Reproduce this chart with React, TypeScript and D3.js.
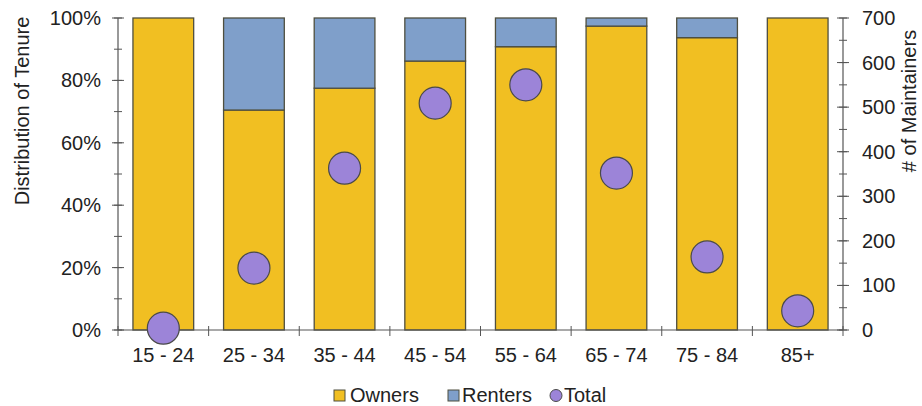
import React from "react";
import * as d3 from "d3";

const categories = ["15 - 24", "25 - 34", "35 - 44", "45 - 54", "55 - 64", "65 - 74", "75 - 84", "85+"];
const owners = [1.0, 0.705, 0.775, 0.862, 0.908, 0.974, 0.937, 1.0];
const renters = owners.map((o) => 1 - o);
const totals = [4, 139, 363, 509, 550, 352, 164, 43];
const leftTicks = [0, 0.2, 0.4, 0.6, 0.8, 1.0];
const rightTicks = [0, 100, 200, 300, 400, 500, 600, 700];

const W = 922;
const H = 406;
const font = "Liberation Sans, Arial, sans-serif";
const fs = 20;
const colors = { owners: "#f1bf22", renters: "#7f9fca", total: "#9c84d8" };
const stroke = "#4f4f3f";

const App = () => {
  const x = d3.scaleBand().domain(categories).range([118, 843]).paddingInner(0.33).paddingOuter(0.165);
  const yL = d3.scaleLinear().domain([0, 1]).range([330, 18]);
  const yR = d3.scaleLinear().domain([0, 700]).range([330, 18]);
  const fmt = d3.format(".0%");

  const minorL = d3.range(0, 11).map((i) => i / 10);
  const minorR = d3.range(0, 15).map((i) => i * 50);
  const bounds = d3.range(0, categories.length + 1).map((i) => x.range()[0] + i * x.step());

  return (
    <svg width={W} height={H} style={{ position: "absolute", left: 0, top: 0, background: "#fff" }} fontFamily={font}>
      {/* bars */}
      {categories.map((c, i) => (
        <g key={c}>
          <rect x={x(c)} y={yL(owners[i])} width={x.bandwidth()} height={yL(0) - yL(owners[i])}
            fill={colors.owners} stroke={stroke} strokeWidth={1.3} />
          {renters[i] > 0.001 && (
            <rect x={x(c)} y={yL(1)} width={x.bandwidth()} height={yL(owners[i]) - yL(1)}
              fill={colors.renters} stroke={stroke} strokeWidth={1.3} />
          )}
        </g>
      ))}

      {/* left axis */}
      <line x1={118} x2={118} y1={yL(0)} y2={yL(1)} stroke="#555" strokeWidth={1.2} />
      {minorL.map((t) => (
        <line key={"ml" + t} x1={114} x2={122} y1={yL(t)} y2={yL(t)} stroke="#555" />
      ))}
      {leftTicks.map((t) => (
        <g key={"l" + t}>
          <line x1={112} x2={124} y1={yL(t)} y2={yL(t)} stroke="#555" />
          <text x={101} y={yL(t) + 7} textAnchor="end" fontSize={fs} fill="#222">{fmt(t)}</text>
        </g>
      ))}
      <text transform={`translate(29,111) rotate(-90)`} textAnchor="middle" fontSize={fs} fill="#222">
        Distribution of Tenure
      </text>

      {/* right axis */}
      <line x1={843} x2={843} y1={yR(0)} y2={yR(700)} stroke="#555" strokeWidth={1.2} />
      {minorR.map((t) => (
        <line key={"mr" + t} x1={839} x2={847} y1={yR(t)} y2={yR(t)} stroke="#555" />
      ))}
      {rightTicks.map((t) => (
        <g key={"r" + t}>
          <line x1={837} x2={849} y1={yR(t)} y2={yR(t)} stroke="#555" />
          <text x={862} y={yR(t) + 7} textAnchor="start" fontSize={fs} fill="#222">{t}</text>
        </g>
      ))}
      <text transform={`translate(916,101) rotate(-90)`} textAnchor="middle" fontSize={fs} fill="#222">
        # of Maintainers
      </text>

      {/* x axis */}
      <line x1={118} x2={843} y1={330} y2={330} stroke="#555" strokeWidth={1.2} />
      {bounds.map((b, i) => (
        <line key={"b" + i} x1={b} x2={b} y1={326} y2={336} stroke="#555" />
      ))}
      {categories.map((c) => (
        <text key={"t" + c} x={(x(c) as number) + x.bandwidth() / 2} y={362} textAnchor="middle" fontSize={fs} fill="#222">
          {c}
        </text>
      ))}

      {/* totals */}
      {categories.map((c, i) => (
        <circle key={"c" + c} cx={(x(c) as number) + x.bandwidth() / 2} cy={yR(totals[i])} r={16}
          fill={colors.total} stroke="#4a4a4a" strokeWidth={1.2} />
      ))}

      {/* legend */}
      <g fontSize={fs} fill="#222">
        <rect x={334} y={390} width={11} height={11} fill={colors.owners} stroke={stroke} />
        <text x={350} y={402}>Owners</text>
        <rect x={448} y={390} width={11} height={11} fill={colors.renters} stroke={stroke} />
        <text x={462} y={402}>Renters</text>
        <circle cx={556} cy={395.5} r={6} fill={colors.total} stroke="#4a4a4a" />
        <text x={564} y={402}>Total</text>
      </g>
    </svg>
  );
};

export default App;
